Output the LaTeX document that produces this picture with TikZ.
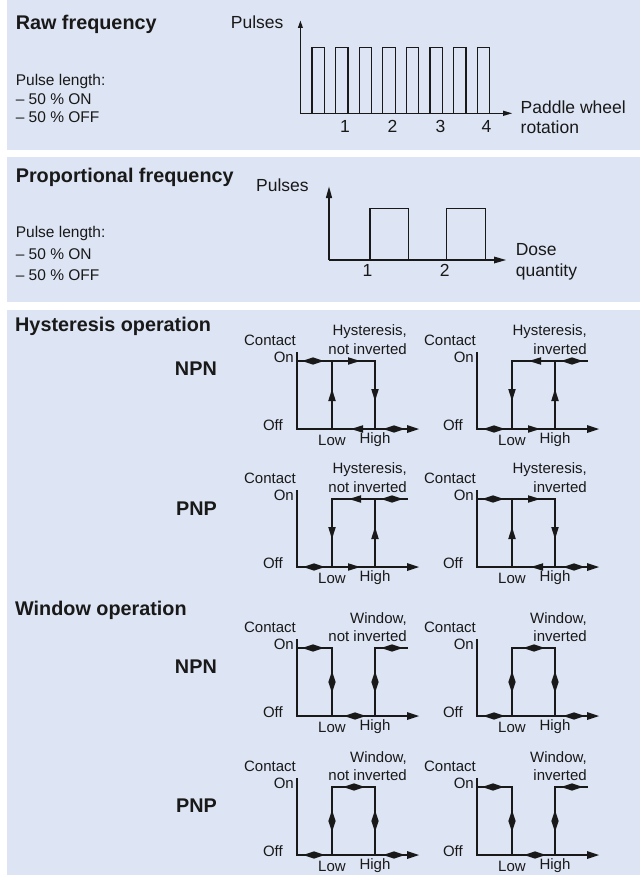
\documentclass[tikz,border=0pt]{standalone}
\usepackage{fontspec}
\setmainfont{Liberation Sans}
\definecolor{panel}{RGB}{221,228,243}
\definecolor{ink}{RGB}{25,25,25}
\tikzset{
  ttl/.style={anchor=west, inner sep=0, font=\fontsize{19.8}{22}\selectfont\bfseries, text=ink},
  txt/.style={anchor=west, inner sep=0, font=\fontsize{15.5}{18}\selectfont, text=ink},
  glab/.style={inner sep=0, font=\fontsize{17.5}{20}\selectfont, text=ink},
  hlab/.style={inner sep=0, font=\fontsize{15}{17}\selectfont, text=ink},
  axone/.style={line width=1.3pt, draw=ink},
  sig/.style={line width=1.6pt, draw=ink},
}
% arrow heads centred at (#1,#2)
\newcommand\arR[2]{\fill[ink] ({#1+6},#2) -- ({#1-6},{#2-3.8}) -- ({#1-6},{#2+3.8}) -- cycle;}
\newcommand\arL[2]{\fill[ink] ({#1-6},#2) -- ({#1+6},{#2-3.8}) -- ({#1+6},{#2+3.8}) -- cycle;}
\newcommand\arU[2]{\fill[ink] (#1,{#2-6}) -- ({#1-3.8},{#2+6}) -- ({#1+3.8},{#2+6}) -- cycle;}
\newcommand\arD[2]{\fill[ink] (#1,{#2+6}) -- ({#1-3.8},{#2-6}) -- ({#1+3.8},{#2-6}) -- cycle;}
\newcommand\arDH[2]{\fill[ink] ({#1-11},#2) -- (#1,{#2-3.6}) -- (#1,{#2+3.6}) -- cycle;
  \fill[ink] ({#1+11},#2) -- (#1,{#2-3.6}) -- (#1,{#2+3.6}) -- cycle;}
\newcommand\arDV[2]{\fill[ink] (#1,{#2-11}) -- ({#1-3.6},#2) -- ({#1+3.6},#2) -- cycle;
  \fill[ink] (#1,{#2+11}) -- ({#1-3.6},#2) -- ({#1+3.6},#2) -- cycle;}
% frame of a switching graph: #1 x0, #2 baseline, #3 name, #4 #5 title
\newcommand\gframe[5]{%
  \draw[sig] (#1,{#2-77}) -- (#1,#2) -- ({#1+112},#2);
  \fill[ink] ({#1+122},#2) -- ({#1+110},{#2-4}) -- ({#1+110},{#2+4}) -- cycle;
  \node[hlab,anchor=east] (#3-c) at ({#1-1},{#2-89}) {Contact};
  \node[hlab,anchor=east] (#3-on) at ({#1-3},{#2-72}) {On};
  \node[hlab,anchor=east] (#3-off) at ({#1-14},{#2-4}) {Off};
  \node[hlab] (#3-lo) at ({#1+35},{#2+11}) {Low};
  \node[hlab] (#3-hi) at ({#1+78},{#2+11}) {High};
  \node[hlab,anchor=east] (#3-ta) at ({#1+110},{#2-97}) {#4};
  \node[hlab,anchor=east] (#3-tb) at ({#1+110},{#2-80}) {#5};
}
\newcommand\hystA[5]{%
  \gframe{#1}{#2}{#3}{#4}{#5}
  \draw[sig] (#1,{#2-68}) -- ({#1+78},{#2-68}) -- ({#1+78},#2);
  \draw[sig] ({#1+35},#2) -- ({#1+35},{#2-68});
  \arDH{#1+16}{#2-68}
  \arR{#1+57}{#2-68}
  \arU{#1+35}{#2-34}
  \arD{#1+78}{#2-34}
  \arL{#1+60}{#2}
  \arDH{#1+97}{#2}
}
\newcommand\hystB[5]{%
  \gframe{#1}{#2}{#3}{#4}{#5}
  \draw[sig] ({#1+35},#2) -- ({#1+35},{#2-68}) -- ({#1+111},{#2-68});
  \draw[sig] ({#1+78},#2) -- ({#1+78},{#2-68});
  \arL{#1+58}{#2-68}
  \arDH{#1+95}{#2-68}
  \arD{#1+35}{#2-34}
  \arU{#1+78}{#2-34}
  \arDH{#1+17}{#2}
  \arR{#1+57}{#2}
}
\newcommand\winA[5]{%
  \gframe{#1}{#2}{#3}{#4}{#5}
  \draw[sig] (#1,{#2-68}) -- ({#1+35},{#2-68}) -- ({#1+35},#2);
  \draw[sig] ({#1+78},#2) -- ({#1+78},{#2-68}) -- ({#1+111},{#2-68});
  \arDH{#1+16}{#2-68}
  \arDH{#1+95}{#2-68}
  \arDV{#1+35}{#2-34}
  \arDV{#1+78}{#2-34}
  \arDH{#1+58}{#2}
}
\newcommand\winB[5]{%
  \gframe{#1}{#2}{#3}{#4}{#5}
  \draw[sig] ({#1+35},#2) -- ({#1+35},{#2-68}) -- ({#1+78},{#2-68}) -- ({#1+78},#2);
  \arDH{#1+57}{#2-68}
  \arDV{#1+35}{#2-34}
  \arDV{#1+78}{#2-34}
  \arDH{#1+17}{#2}
  \arDH{#1+97}{#2}
}
\begin{document}
\begin{tikzpicture}[x=1pt,y=-1pt]
\useasboundingbox (0,0) rectangle (644,875);
\fill[white] (0,0) rectangle (644,875);
\fill[panel] (6.5,0) rectangle (640,150);
\fill[panel] (6.5,157) rectangle (640,302);
\fill[panel] (6.5,310) rectangle (640,875);

% ---------- Raw frequency ----------
\node[ttl] (t1) at (15.6,24) {Raw frequency};
\node[txt] (p1a) at (15.6,81.7) {Pulse length:};
\node[txt] (p1b) at (15.6,99) {– 50 \% ON};
\node[txt] (p1c) at (15.6,116.7) {– 50 \% OFF};
\node[glab,anchor=west] (pul1) at (230.7,22.7) {Pulses};
\coordinate (o1) at (300.4,113.3);
\draw[axone] (o1) -- (300.4,27);
\fill[ink] (300.4,20.7) -- (297.8,28) -- (303,28) -- cycle;
\draw[axone] (o1) -- (505,113.3);
\fill[ink] (512,113.3) -- (503,110.6) -- (503,116) -- cycle;
\foreach \i in {0,...,7}{
  \draw[axone] ({312+23.6*\i},113.3) -- ({312+23.6*\i},47.7) -- ({324.4+23.6*\i},47.7) -- ({324.4+23.6*\i},113.3);
}
\node[glab] (d1) at (345,126) {1};
\node[glab] (d2) at (392.6,126) {2};
\node[glab] (d3) at (440.6,126) {3};
\node[glab] (d4) at (486.5,126) {4};
\node[glab,anchor=west] (pw) at (520.5,107) {Paddle wheel};
\node[glab,anchor=west] (rot) at (520.5,127) {rotation};

% ---------- Proportional frequency ----------
\node[ttl] (t2) at (15.6,177.7) {Proportional frequency};
\node[txt] (p2a) at (15.6,233.3) {Pulse length:};
\node[txt] (p2b) at (15.6,254.3) {– 50 \% ON};
\node[txt] (p2c) at (15.6,275) {– 50 \% OFF};
\node[glab,anchor=west] (pul2) at (256,185) {Pulses};
\coordinate (o2) at (329,260);
\draw[axone] (o2) -- (329,196);
\fill[ink] (329,186.7) -- (325.8,198) -- (332.2,198) -- cycle;
\draw[axone] (o2) -- (496,260);
\fill[ink] (506,260) -- (494,256.5) -- (494,263.5) -- cycle;
\draw[axone] (370,260) -- (370,208.3) -- (408.2,208.3) -- (408.2,260);
\draw[axone] (446.7,260) -- (446.7,208.3) -- (485.7,208.3) -- (485.7,260);
\node[glab] (e1) at (367.6,270) {1};
\node[glab] (e2) at (444.7,270) {2};
\node[glab,anchor=west] (dose) at (515.6,250) {Dose};
\node[glab,anchor=west] (qty) at (515.6,271.7) {quantity};

% ---------- Hysteresis / Window ----------
\node[ttl] (t3) at (15,326.7) {Hysteresis operation};
\node[ttl,anchor=east] (hnpn) at (217,368.3) {NPN};
\node[ttl,anchor=east] (hpnp) at (217,508.3) {PNP};
\node[ttl] (t4) at (15,610) {Window operation};
\node[ttl,anchor=east] (wnpn) at (217,667) {NPN};
\node[ttl,anchor=east] (wpnp) at (217,806) {PNP};

\hystA{297}{429}{hna}{Hysteresis,}{not inverted}
\hystB{477}{429}{hnb}{Hysteresis,}{inverted}
\hystB{297}{567}{hpa}{Hysteresis,}{not inverted}
\hystA{477}{567}{hpb}{Hysteresis,}{inverted}
\winA{297}{716}{wna}{Window,}{not inverted}
\winB{477}{716}{wnb}{Window,}{inverted}
\winB{297}{855}{wpa}{Window,}{not inverted}
\winA{477}{855}{wpb}{Window,}{inverted}
\end{tikzpicture}
\end{document}
